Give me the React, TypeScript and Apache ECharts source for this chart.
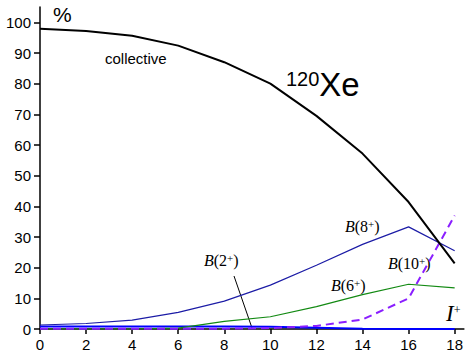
import React, { useEffect, useRef } from "react";
import * as echarts from "echarts";

const spins = [0, 2, 4, 6, 8, 10, 12, 14, 16, 18];
const collective = [97.9, 97.2, 95.6, 92.4, 87.0, 80.0, 69.5, 57.2, 41.4, 21.4];
const b8 = [1.3, 1.8, 2.9, 5.4, 9.1, 14.3, 20.8, 27.6, 33.3, 25.5];
const b6 = [0, 0, 0, 0.3, 2.5, 4.0, 7.3, 11.2, 14.6, 13.4];
const b10 = [0.1, 0.1, 0.1, 0.1, 0.1, 0.3, 1.0, 3.1, 10.0, 37.0];
const b2 = [0.8, 0.8, 0.8, 0.8, 0.8, 0.7, 0.4, 0.1, 0, 0];
const xTicks = [0, 2, 4, 6, 8, 10, 12, 14, 16, 18];
const yTicks = [0, 10, 20, 30, 40, 50, 60, 70, 80, 90, 100];

const SANS = "Liberation Sans, Arial, sans-serif";
const SERIF = "Liberation Serif, Times New Roman, serif";

function pairs(ys: number[]) {
  return spins.map((x, i) => [x, ys[i]]);
}

function bLabel(num: string) {
  return {
    text: `{i|B}{n|(${num}}{s|+}{n|)}`,
    rich: {
      i: { fontFamily: SERIF, fontStyle: "italic", fontSize: 16, lineHeight: 16, fill: "#000" },
      n: { fontFamily: SERIF, fontSize: 16, lineHeight: 16, fill: "#000" },
      s: { fontFamily: SERIF, fontSize: 11, lineHeight: 16, verticalAlign: "top", fill: "#000" },
    },
  };
}

export default function App() {
  const ref = useRef<HTMLDivElement>(null);
  useEffect(() => {
    const chart = echarts.init(ref.current!, null, { renderer: "svg" });
    const lineSeries = (name: string, data: number[], color: string, width: number, type: any = "solid", z = 2) => ({
      name,
      type: "line",
      data: pairs(data),
      symbol: "none",
      z,
      lineStyle: { color, width, type },
    });
    chart.setOption({
      animation: false,
      backgroundColor: "#fff",
      grid: { left: 40, right: 1, top: 7, bottom: 32 },
      xAxis: {
        type: "value",
        min: 0,
        max: 18.4,
        axisLine: { show: true, onZero: false, lineStyle: { color: "#000", width: 1.5 } },
        axisTick: { show: true, length: 5, customValues: xTicks, lineStyle: { color: "#000", width: 1.5 } },
        axisLabel: { customValues: xTicks, color: "#000", fontSize: 15, fontFamily: SANS, margin: 8 },
        splitLine: { show: false },
      },
      yAxis: {
        type: "value",
        min: 0,
        max: 105,
        axisLine: { show: true, lineStyle: { color: "#000", width: 1.5 } },
        axisTick: { show: true, length: 6, customValues: yTicks, lineStyle: { color: "#000", width: 1.5 } },
        axisLabel: { customValues: yTicks, color: "#000", fontSize: 15, fontFamily: SANS, margin: 9 },
        splitLine: { show: false },
      },
      series: [
        lineSeries("B(2+)", b2, "#0000ff", 2),
        lineSeries("B(6+)", b6, "#138a13", 1.2),
        lineSeries("B(8+)", b8, "#1c1ca6", 1.2),
        lineSeries("B(10+)", b10, "#8a1eff", 2, [8, 5], 3),
        lineSeries("collective", collective, "#000", 2, "solid", 4),
      ],
      graphic: [
        { type: "text", left: 53, top: 4, style: { text: "%", fontFamily: SANS, fontSize: 21, fill: "#000" } },
        { type: "text", left: 105, top: 51, style: { text: "collective", fontFamily: SANS, fontSize: 15, fill: "#000" } },
        {
          type: "text",
          left: 286,
          top: 68,
          style: {
            text: "{s|120}{b|Xe}",
            rich: {
              s: { fontFamily: SANS, fontSize: 20, lineHeight: 32, verticalAlign: "top", fill: "#000" },
              b: { fontFamily: SANS, fontSize: 33, lineHeight: 32, fill: "#000" },
            },
          },
        },
        { type: "text", left: 345, top: 218, style: bLabel("8") },
        { type: "text", left: 388, top: 255, style: bLabel("10") },
        { type: "text", left: 331, top: 277, style: bLabel("6") },
        { type: "text", left: 204, top: 252, style: bLabel("2") },
        {
          type: "text",
          left: 446,
          top: 302,
          style: {
            text: "{i|I}{s|+}",
            rich: {
              i: { fontFamily: SERIF, fontStyle: "italic", fontSize: 23, lineHeight: 20, fill: "#000" },
              s: { fontFamily: SERIF, fontSize: 12, lineHeight: 20, verticalAlign: "top", fill: "#000" },
            },
          },
        },
        { type: "line", shape: { x1: 234, y1: 276, x2: 252, y2: 328 }, style: { stroke: "#000", lineWidth: 1 } },
      ],
    });
    return () => chart.dispose();
  }, []);
  return <div ref={ref} style={{ position: "fixed", left: 0, top: 0, width: 466, height: 361 }} />;
}
